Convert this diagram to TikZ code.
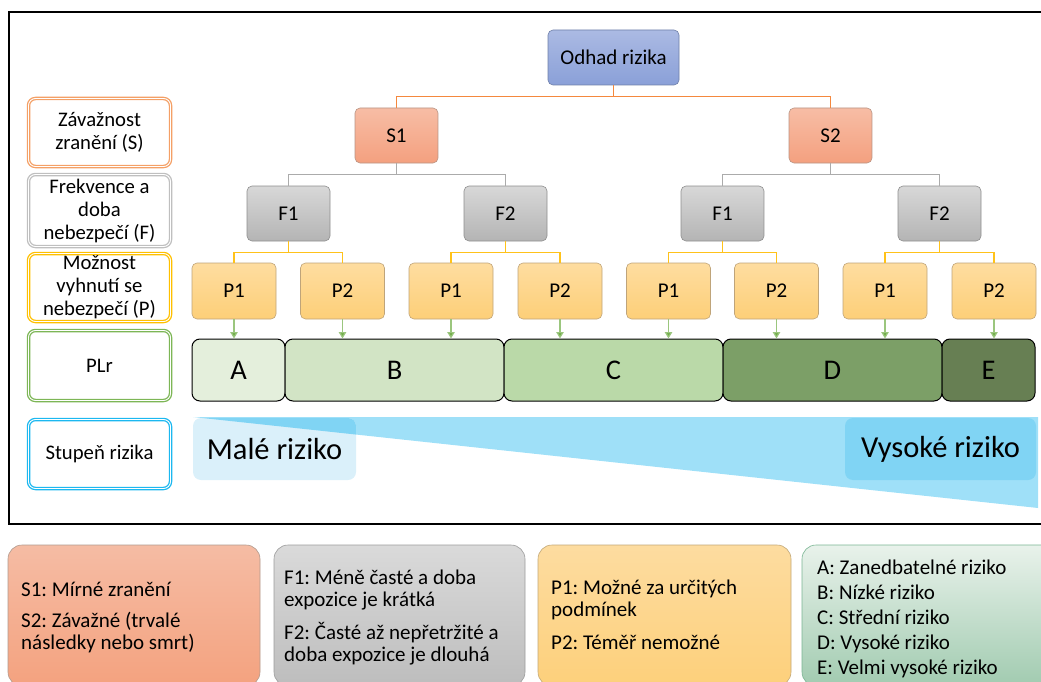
\documentclass[tikz,border=0pt]{standalone}
\usepackage{fontspec}
\setmainfont{Carlito}
\frenchspacing
\usetikzlibrary{arrows.meta}
\definecolor{odT}{HTML}{ABBAE3}
\definecolor{odB}{HTML}{8AA0D8}
\definecolor{odD}{HTML}{6E7FA8}
\definecolor{sT}{HTML}{F7BDA5}
\definecolor{sB}{HTML}{F4A07F}
\definecolor{sD}{HTML}{B89484}
\definecolor{fT}{HTML}{D8D8D8}
\definecolor{fB}{HTML}{B4B4B4}
\definecolor{fD}{HTML}{8E8E8E}
\definecolor{pT}{HTML}{FEDDA0}
\definecolor{pB}{HTML}{FDCF78}
\definecolor{pD}{HTML}{BFA47A}
\definecolor{lineS}{HTML}{F4883E}
\definecolor{lineF}{HTML}{ABABAB}
\definecolor{lineP}{HTML}{FFC21A}
\definecolor{lineG}{HTML}{70AD47}
\definecolor{rowS}{HTML}{F4A066}
\definecolor{rowF}{HTML}{BFBFBF}
\definecolor{rowP}{HTML}{FFC000}
\definecolor{rowG}{HTML}{7DB656}
\definecolor{rowB}{HTML}{1CB8F0}
\definecolor{plA}{HTML}{E4EFDC}
\definecolor{plB}{HTML}{D2E4C5}
\definecolor{plC}{HTML}{BAD9A8}
\definecolor{plD}{HTML}{7C9F67}
\definecolor{plE}{HTML}{677F53}
\definecolor{triB}{HTML}{9FE0F8}
\definecolor{maleB}{HTML}{DAF0FA}
\definecolor{darkB}{HTML}{80D4F4}
\definecolor{lgST}{HTML}{F5BCA4}
\definecolor{lgSB}{HTML}{F4A27F}
\definecolor{lgSD}{HTML}{B09A8E}
\definecolor{lgFT}{HTML}{DADADA}
\definecolor{lgFB}{HTML}{BDBDBD}
\definecolor{lgFD}{HTML}{9C9C9C}
\definecolor{lgPT}{HTML}{FDDCA0}
\definecolor{lgPB}{HTML}{FDD07B}
\definecolor{lgPD}{HTML}{C2A878}
\definecolor{lgGT}{HTML}{E9F2EB}
\definecolor{lgGB}{HTML}{A1CBB0}
\definecolor{lgGD}{HTML}{7AB593}
\begin{document}
\begin{tikzpicture}[x=1pt,y=-1pt,
  every node/.style={inner sep=0pt},
  treebox/.style={rounded corners=5pt, minimum width=83pt, minimum height=55pt,
    font=\fontsize{21}{24}\selectfont, line width=0.6pt},
  odhadnode/.style={treebox, minimum width=131pt, top color=odT, bottom color=odB, draw=odD},
  snode/.style={treebox, top color=sT, bottom color=sB, draw=sD},
  fnode/.style={treebox, top color=fT, bottom color=fB, draw=fD},
  pnode/.style={treebox, minimum width=84pt, minimum height=56pt, top color=pT, bottom color=pB, draw=pD},
  rowlabel/.style={rounded corners=7pt, minimum width=142pt, line width=1.3pt,
    double=white, double distance=0.9pt, align=center, font=\fontsize{20.7}{23}\selectfont},
  plrbox/.style={draw=black, line width=1pt, rounded corners=8pt, minimum height=62pt,
    font=\fontsize{28.5}{30}\selectfont},
  legbox/.style={rounded corners=14pt, line width=0.6pt, minimum height=141pt},
  legtext/.style={anchor=base west, font=\fontsize{21}{24}\selectfont},
  riskbox/.style={font=\fontsize{30.5}{34}\selectfont},
  conS/.style={draw=lineS, line width=1.2pt},
  conF/.style={draw=lineF, line width=1.2pt},
  conP/.style={draw=lineP, line width=1.2pt},
  conG/.style={draw=lineG!70, line width=1.2pt, -{Triangle[width=7.5pt,length=6.5pt,fill=lineG]}},
]
\useasboundingbox (0,0) rectangle (1041,682);
% outer frame
\draw[line width=1.5pt] (9,12) rectangle (1050,524);

% tree
\node[odhadnode] (odhad) at (613.5,57.5) {Odhad rizika};
\node[snode] (s1) at (396.5,135.5) {S1};
\node[snode] (s2) at (830.5,135.5) {S2};
\node[fnode] (f1a) at (288.5,213.5) {F1};
\node[fnode] (f2a) at (505.5,213.5) {F2};
\node[fnode] (f1b) at (722.5,213.5) {F1};
\node[fnode] (f2b) at (939.5,213.5) {F2};
\node[pnode] (p1) at (234,291) {P1};
\node[pnode] (p2) at (342.5,291) {P2};
\node[pnode] (p3) at (451,291) {P1};
\node[pnode] (p4) at (560,291) {P2};
\node[pnode] (p5) at (668.5,291) {P1};
\node[pnode] (p6) at (776.5,291) {P2};
\node[pnode] (p7) at (885,291) {P1};
\node[pnode] (p8) at (994,291) {P2};

\draw[conS] (odhad.south) -- ++(0,11) -| (s1.north);
\draw[conS] (odhad.south) -- ++(0,11) -| (s2.north);
\draw[conF] (s1.south) -- ++(0,11) -| (f1a.north);
\draw[conF] (s1.south) -- ++(0,11) -| (f2a.north);
\draw[conF] (s2.south) -- ++(0,11) -| (f1b.north);
\draw[conF] (s2.south) -- ++(0,11) -| (f2b.north);
\draw[conP] (f1a.south) -- ++(0,11) -| (p1.north);
\draw[conP] (f1a.south) -- ++(0,11) -| (p2.north);
\draw[conP] (f2a.south) -- ++(0,11) -| (p3.north);
\draw[conP] (f2a.south) -- ++(0,11) -| (p4.north);
\draw[conP] (f1b.south) -- ++(0,11) -| (p5.north);
\draw[conP] (f1b.south) -- ++(0,11) -| (p6.north);
\draw[conP] (f2b.south) -- ++(0,11) -| (p7.north);
\draw[conP] (f2b.south) -- ++(0,11) -| (p8.north);

% PLr boxes
\node[plrbox, fill=plA, minimum width=93pt] (pla) at (238.5,370) {A};
\node[plrbox, fill=plB, minimum width=219pt] (plb) at (394.5,370) {B};
\node[plrbox, fill=plC, minimum width=219pt] (plc) at (613.5,370) {C};
\node[plrbox, fill=plD, minimum width=219pt] (pld) at (832.5,370) {D};
\node[plrbox, fill=plE, minimum width=93pt] (ple) at (988.5,370) {E};

\draw[conG] (p1.south) -- (p1.south |- pla.north);
\draw[conG] (p2.south) -- (p2.south |- plb.north);
\draw[conG] (p3.south) -- (p3.south |- plb.north);
\draw[conG] (p4.south) -- (p4.south |- plc.north);
\draw[conG] (p5.south) -- (p5.south |- plc.north);
\draw[conG] (p6.south) -- (p6.south |- pld.north);
\draw[conG] (p7.south) -- (p7.south |- pld.north);
\draw[conG] (p8.south) -- (p8.south |- ple.north);

% row labels
\node[rowlabel, draw=rowS, minimum height=68pt] (zav) at (99.5,132.5) {Závažnost\\zranění (S)};
\node[rowlabel, draw=rowF, minimum height=72pt] (frek) at (99.5,210.5) {Frekvence a\\doba\\nebezpečí (F)};
\node[rowlabel, draw=rowP, minimum height=68pt] (moz) at (99.5,287.5) {Možnost\\vyhnutí se\\nebezpečí (P)};
\node[rowlabel, draw=rowG, minimum height=70pt] (plr) at (99.5,365.5) {PLr};
\node[rowlabel, draw=rowB, minimum height=69pt] (stup) at (99.5,454) {Stupeň rizika};

% risk wedge
\fill[triB] (193,417) -- (1038,417) -- (1038,508) -- cycle;
\fill[maleB, rounded corners=8pt] (193,418) rectangle (356,480);
\begin{scope}
  \clip (193,417) -- (1038,417) -- (1038,508) -- cycle;
  \fill[darkB, rounded corners=8pt] (193,418) rectangle (356,480);
\end{scope}
\fill[darkB, rounded corners=8pt] (845,418) rectangle (1036,480);
\node[riskbox] (male) at (274.5,449) {Malé riziko};
\node[riskbox] (vys) at (940.5,449) {Vysoké riziko};

% legend boxes
\node[legbox, top color=lgST, bottom color=lgSB, draw=lgSD, minimum width=252pt] (legS) at (134,615.5) {};
\node[legbox, top color=lgFT, bottom color=lgFB, draw=lgFD, minimum width=251pt] (legF) at (399.5,615.5) {};
\node[legbox, top color=lgPT, bottom color=lgPB, draw=lgPD, minimum width=253pt] (legP) at (664.5,615.5) {};
\node[legbox, top color=lgGT, bottom color=lgGB, draw=lgGD, minimum width=260pt] (legG) at (932,615.5) {};

\node[legtext] (ts1) at (21,596) {S1: Mírné zranění};
\node[legtext] (ts2) at (21,627) {S2: Závažné (trvalé};
\node[legtext] (ts3) at (21,649) {následky nebo smrt)};
\node[legtext] (tf1) at (284,584) {F1: Méně časté a doba};
\node[legtext] (tf2) at (284,606) {expozice je krátká};
\node[legtext] (tf3) at (284,639) {F2: Časté až nepřetržité a};
\node[legtext] (tf4) at (284,661) {doba expozice je dlouhá};
\node[legtext] (tp1) at (551,594) {P1: Možné za určitých};
\node[legtext] (tp2) at (551,616) {podmínek};
\node[legtext] (tp3) at (551,649) {P2: Téměř nemožné};
\node[legtext] (tg1) at (817,574) {A: Zanedbatelné riziko};
\node[legtext] (tg2) at (817,599) {B: Nízké riziko};
\node[legtext] (tg3) at (817,624) {C: Střední riziko};
\node[legtext] (tg4) at (817,649) {D: Vysoké riziko};
\node[legtext] (tg5) at (817,674) {E: Velmi vysoké riziko};
\end{tikzpicture}
\end{document}
